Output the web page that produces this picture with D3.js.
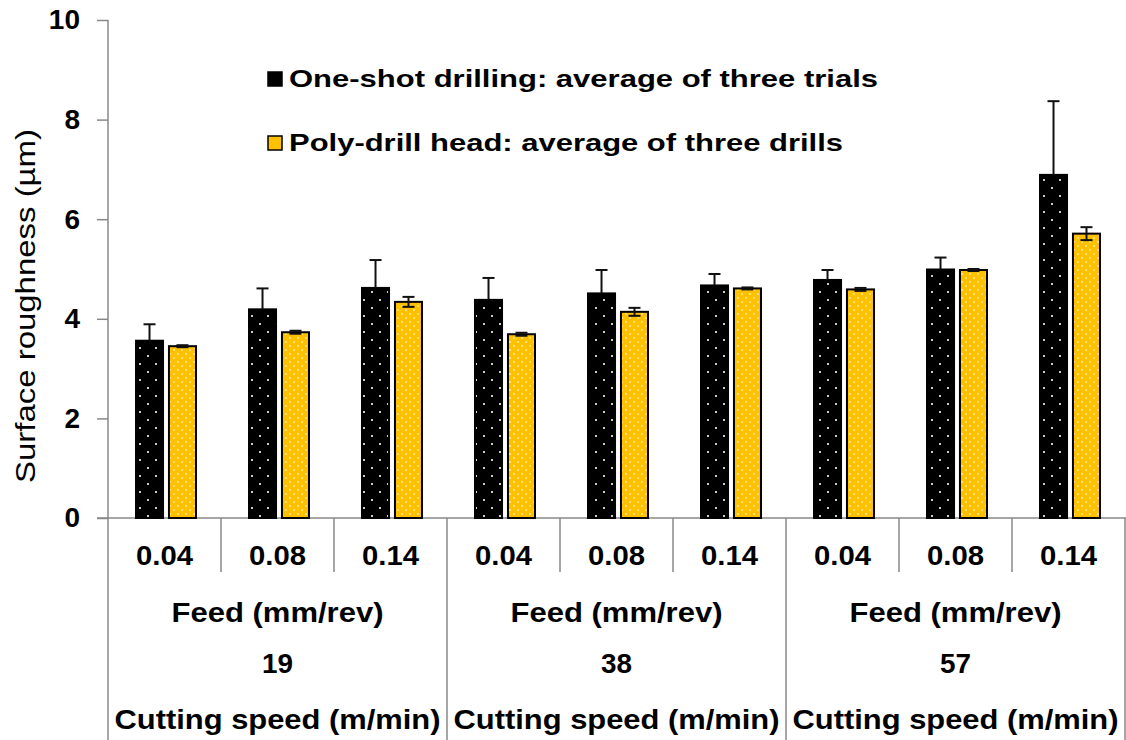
<!DOCTYPE html>
<html>
<head>
<meta charset="utf-8">
<script src="https://cdn.jsdelivr.net/npm/d3@7"></script>
<style>
  body { margin: 0; background: #fff; }
  text { font-family: "Liberation Sans", Arial, sans-serif; fill: #000; }
</style>
</head>
<body>
<div id="chart"></div>
<script>
const speeds = ['19', '38', '57']
const feeds = ['0.04', '0.08', '0.14']
const oneShot = [3.56, 4.19, 4.62, 4.38, 4.51, 4.67, 4.78, 4.99, 6.89]
const oneShotErr = [0.33, 0.42, 0.56, 0.44, 0.47, 0.23, 0.2, 0.24, 1.48]
const polyDrill = [3.45, 3.73, 4.34, 3.69, 4.14, 4.61, 4.59, 4.98, 5.71]
const polyErr = [0.02, 0.03, 0.1, 0.03, 0.08, 0.02, 0.03, 0.02, 0.13]
const yTicks = [0, 2, 4, 6, 8, 10]
const seriesNames = ['One-shot drilling: average of three trials', 'Poly-drill head: average of three drills']

const width = 1126
const height = 740
const margin = { top: 20, left: 108, right: 1, bottom: 222 }

const svg = d3
  .select('#chart')
  .append('svg')
  .attr('width', width)
  .attr('height', height)

// dotted fills
const defs = svg.append('defs')
const pBlack = defs.append('pattern')
  .attr('id', 'dotsBlack')
  .attr('patternUnits', 'userSpaceOnUse')
  .attr('width', 16).attr('height', 16)
pBlack.append('rect').attr('width', 16).attr('height', 16).attr('fill', '#000')
pBlack.append('circle').attr('cx', 4).attr('cy', 4).attr('r', 1.1).attr('fill', '#fff')
pBlack.append('circle').attr('cx', 12).attr('cy', 12).attr('r', 1.1).attr('fill', '#fff')

const pYellow = defs.append('pattern')
  .attr('id', 'dotsYellow')
  .attr('patternUnits', 'userSpaceOnUse')
  .attr('width', 8).attr('height', 8)
pYellow.append('rect').attr('width', 8).attr('height', 8).attr('fill', '#ffc000')
pYellow.append('circle').attr('cx', 2).attr('cy', 2).attr('r', 0.9).attr('fill', '#fff2a0')
pYellow.append('circle').attr('cx', 6).attr('cy', 6).attr('r', 0.9).attr('fill', '#fff2a0')

const cats = d3.range(speeds.length * feeds.length)
const x = d3.scaleBand().domain(cats).range([margin.left, width - margin.right])
const y = d3.scaleLinear().domain([0, 10]).range([height - margin.bottom, margin.top])
const x1 = d3.scaleBand().domain([0, 1]).range([28, 88]).paddingInner(0.18)

// bold label helper, stretched to the width seen in the picture
function label(sel, txt, px, py, len, size) {
  return sel.append('text')
    .attr('x', px).attr('y', py)
    .attr('text-anchor', 'middle')
    .attr('textLength', len)
    .attr('lengthAdjust', 'spacingAndGlyphs')
    .style('font-size', (size || 28) + 'px').style('font-weight', 'bold')
    .text(txt)
}

// y axis
const yAxis = d3.axisLeft(y).tickValues(yTicks).tickSize(11).tickPadding(17)
const yG = svg.append('g')
  .attr('transform', `translate(${margin.left},0)`)
  .call(yAxis)
yG.select('.domain').remove()
yG.selectAll('.tick line').attr('stroke', '#888').attr('stroke-width', 1.5)
yG.selectAll('.tick text')
  .style('font-size', '28px').style('font-weight', 'bold')
  .attr('font-family', null)
svg.append('line')
  .attr('x1', margin.left).attr('x2', margin.left)
  .attr('y1', margin.top).attr('y2', height)
  .attr('stroke', '#888').attr('stroke-width', 1.5)

// x baseline
svg.append('line')
  .attr('x1', margin.left - 11).attr('x2', width)
  .attr('y1', y(0)).attr('y2', y(0))
  .attr('stroke', '#888').attr('stroke-width', 1.5)

// category separators
cats.slice(1).forEach(i => {
  const major = i % feeds.length === 0
  svg.append('line')
    .attr('x1', x(i)).attr('x2', x(i))
    .attr('y1', y(0)).attr('y2', major ? height : y(0) + 54)
    .attr('stroke', '#888').attr('stroke-width', 1.5)
})
svg.append('line')
  .attr('x1', width - 1).attr('x2', width - 1)
  .attr('y1', y(0)).attr('y2', height)
  .attr('stroke', '#888').attr('stroke-width', 1.5)

// feed labels
cats.forEach(d => {
  label(svg, feeds[d % feeds.length], x(d) + x.bandwidth() / 2, 565, 57)
})

// group labels
speeds.forEach((s, g) => {
  const cx = x(g * feeds.length) + x.bandwidth() * feeds.length / 2
  label(svg, 'Feed (mm/rev)', cx, 622, 212)
  label(svg, s, cx, 673, 31)
  label(svg, 'Cutting speed (m/min)', cx, 729, 326)
})

// y title
svg.append('text')
  .attr('transform', `translate(35,306) rotate(-90)`)
  .attr('text-anchor', 'middle')
  .attr('textLength', 354)
  .attr('lengthAdjust', 'spacingAndGlyphs')
  .style('font-size', '28px')
  .text('Surface roughness (µm)')

// bars
const series = [
  { values: oneShot, errs: oneShotErr, fill: 'url(#dotsBlack)', lower: false },
  { values: polyDrill, errs: polyErr, fill: 'url(#dotsYellow)', lower: true }
]

series.forEach((s, k) => {
  const g = svg.append('g')
  g.selectAll('rect')
    .data(cats)
    .enter()
    .append('rect')
    .attr('x', d => x(d) + x1(k))
    .attr('y', d => y(s.values[d]))
    .attr('width', x1.bandwidth())
    .attr('height', d => y(0) - y(s.values[d]))
    .attr('fill', s.fill)
    .attr('stroke', '#000')
    .attr('stroke-width', 2)

  const e = svg.append('g').attr('stroke', '#111').attr('stroke-width', 2)
  cats.forEach(d => {
    const cx = x(d) + x1(k) + x1.bandwidth() / 2
    const hi = y(s.values[d] + s.errs[d])
    const lo = s.lower ? y(s.values[d] - s.errs[d]) : y(s.values[d])
    e.append('line').attr('x1', cx).attr('x2', cx).attr('y1', hi).attr('y2', lo)
    e.append('line').attr('x1', cx - 6).attr('x2', cx + 6).attr('y1', hi).attr('y2', hi)
    if (s.lower) {
      e.append('line').attr('x1', cx - 6).attr('x2', cx + 6).attr('y1', lo).attr('y2', lo)
    }
  })
})

// legend
const legend = svg.append('g')
seriesNames.forEach((name, i) => {
  const ly = 79 + i * 64
  legend.append('rect')
    .attr('x', 268).attr('y', ly - 7)
    .attr('width', 14).attr('height', 14)
    .attr('fill', i === 0 ? '#000' : '#ffc000')
    .attr('stroke', '#000').attr('stroke-width', 1.5)
  legend.append('text')
    .attr('x', 289).attr('y', ly + 8)
    .attr('textLength', i === 0 ? 589 : 554)
    .attr('lengthAdjust', 'spacingAndGlyphs')
    .style('font-size', '24px').style('font-weight', 'bold')
    .text(name)
})
</script>
</body>
</html>
